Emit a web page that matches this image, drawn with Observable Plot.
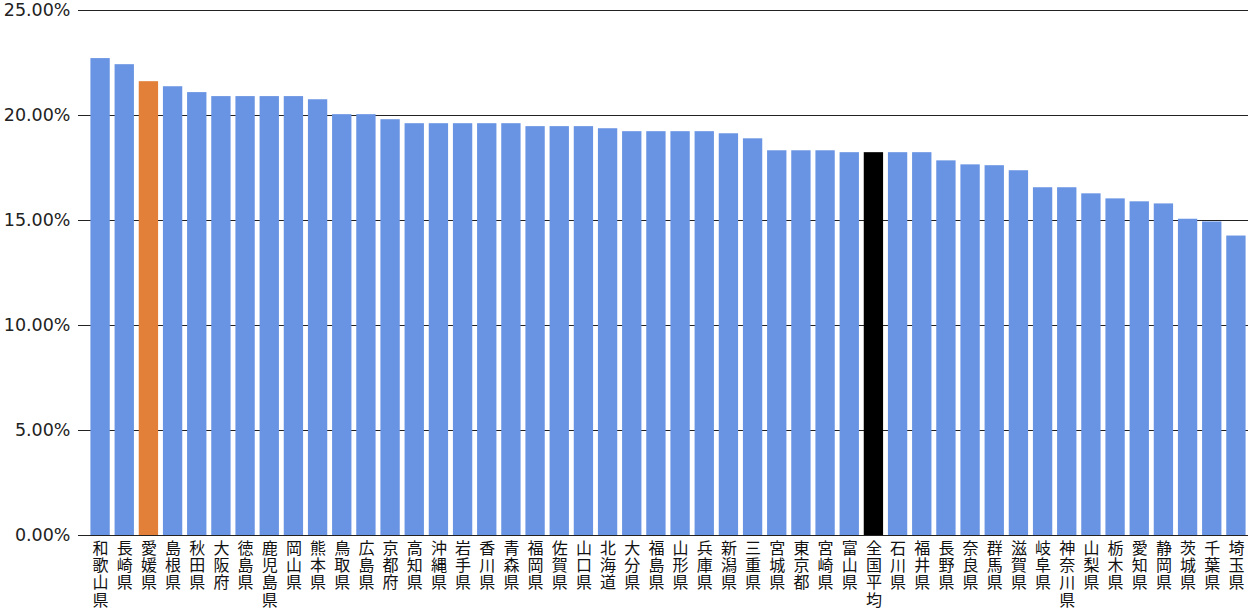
<!DOCTYPE html>
<html>
<head>
<meta charset="utf-8">
<script src="https://cdn.jsdelivr.net/npm/d3@7"></script>
<script src="https://cdn.jsdelivr.net/npm/@observablehq/plot@0.6"></script>
<style>
  html, body { margin: 0; padding: 0; background: #fff; }
</style>
</head>
<body>
<div id="chart"></div>
<script>
const prefectures = ["和歌山県","長崎県","愛媛県","島根県","秋田県","大阪府","徳島県","鹿児島県","岡山県","熊本県",
  "鳥取県","広島県","京都府","高知県","沖縄県","岩手県","香川県","青森県","福岡県","佐賀県",
  "山口県","北海道","大分県","福島県","山形県","兵庫県","新潟県","三重県","宮城県","東京都",
  "宮崎県","富山県","全国平均","石川県","福井県","長野県","奈良県","群馬県","滋賀県","岐阜県",
  "神奈川県","山梨県","栃木県","愛知県","静岡県","茨城県","千葉県","埼玉県"];
const values = [22.71,22.42,21.61,21.37,21.09,20.90,20.90,20.90,20.90,20.75,
  20.04,20.04,19.80,19.61,19.61,19.61,19.61,19.61,19.47,19.47,
  19.47,19.37,19.23,19.23,19.23,19.23,19.13,18.89,18.32,18.32,
  18.32,18.23,18.23,18.23,18.23,17.84,17.65,17.61,17.37,16.56,
  16.56,16.27,16.03,15.89,15.79,15.06,14.93,14.26];
const yTicks = [0, 5, 10, 15, 20, 25];
const highlight = "愛媛県";
const average = "全国平均";

const data = prefectures.map((p, i) => ({name: p, value: values[i]}));
const colorOf = d => d.name === highlight ? "#E27F38" : d.name === average ? "#000000" : "#6994E3";

const chart = Plot.plot({
  width: 1248,
  height: 609,
  marginLeft: 78,
  marginRight: 0,
  marginTop: 10,
  marginBottom: 74,
  style: {fontFamily: "'DejaVu Sans', Verdana, sans-serif", background: "#fff"},
  x: {domain: prefectures, paddingInner: 0.2, paddingOuter: 0.1, insetLeft: 10, round: false, label: null},
  y: {domain: [0, 25], label: null},
  marks: [
    Plot.ruleY(yTicks, {stroke: "#222", strokeWidth: 1}),
    Plot.barY(data, {x: "name", y: "value", fill: colorOf}),
    Plot.axisY({ticks: yTicks, tickSize: 0, tickPadding: 8, fontSize: 17.5, fill: "#222",
      tickFormat: d => d.toFixed(2) + "%", label: null}),
    Plot.axisX({tickSize: 0, tickPadding: 6, fontSize: 16, lineHeight: 1.08,
      fontFamily: "'Noto Sans CJK JP', sans-serif", fill: "#111",
      tickFormat: d => d.split("").join("\n"), label: null})
  ]
});
document.getElementById("chart").appendChild(chart);
</script>
</body>
</html>
